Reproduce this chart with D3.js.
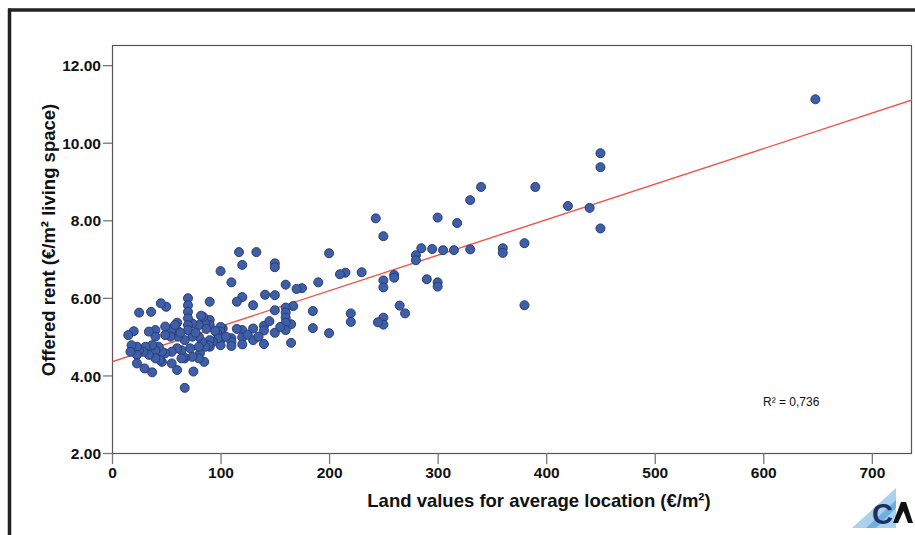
<!DOCTYPE html>
<html>
<head>
<meta charset="utf-8">
<script src="https://cdn.jsdelivr.net/npm/d3@7"></script>
<style>
	body { margin: 0; background: #fff; }
	text { font-family: "Liberation Sans", Arial, sans-serif; }
</style>
</head>
<body>
<div id="chart"></div>
<script>
// land value per m2 (x) and offered rent per m2 (y), one entry per point
var landValue = [
	648, 450, 450, 450, 440, 420, 390, 380, 380, 360, 360, 340, 330, 330, 318, 315, 305, 300, 300, 300,
	295, 290, 285, 280, 280, 270, 265, 260, 260, 250, 250, 250, 250, 250, 245, 243, 230, 220, 220, 215,
	210, 200, 200, 190, 185, 185, 175, 170, 167, 165, 165, 160, 160, 160, 160, 160, 160, 150, 150, 150,
	150, 150, 141, 140, 140, 140, 133, 130, 130, 130, 120, 120, 120, 120, 120, 117, 115, 115, 110, 110,
	110, 110, 102, 100, 100, 100, 100, 100, 97, 98, 93, 90, 90, 90, 90, 90, 89, 86, 86, 85,
	84, 83, 82, 81, 80, 80, 80, 80, 75, 74, 74, 74, 72, 70, 70, 70, 70, 70, 70, 67,
	67, 67, 66, 64, 64, 61, 60, 60, 60, 60, 55, 55, 55, 54, 50, 49, 49, 49, 46, 46,
	45, 44, 43, 40, 40, 40, 40, 37, 37, 36, 34, 34, 31, 30, 29, 25, 25, 23, 23, 23,
	20, 18, 17, 15, 58, 63, 77, 87, 95, 105, 125, 135, 145, 155
];
var offeredRent = [
	11.12, 9.73, 9.37, 7.79, 8.32, 8.37, 8.86, 7.41, 5.81, 7.28, 7.16, 8.86, 8.52, 7.25, 7.93, 7.23, 7.23, 8.07, 6.40, 6.29,
	7.26, 6.48, 7.28, 7.10, 6.97, 5.60, 5.80, 6.59, 6.52, 7.59, 6.45, 6.27, 5.49, 5.31, 5.37, 8.05, 6.66, 5.60, 5.38, 6.65,
	6.61, 7.15, 5.09, 6.40, 5.66, 5.22, 6.25, 6.23, 5.79, 5.32, 4.84, 6.34, 5.75, 5.62, 5.49, 5.36, 5.17, 6.89, 6.79, 6.07,
	5.68, 5.10, 6.08, 5.28, 5.16, 4.81, 7.18, 5.81, 5.21, 4.91, 6.85, 6.02, 5.17, 4.98, 4.80, 7.18, 5.90, 5.20, 6.40, 4.96,
	4.87, 4.76, 5.21, 6.69, 5.25, 5.13, 4.91, 4.78, 5.09, 4.96, 4.87, 5.90, 5.43, 5.30, 4.91, 4.74, 4.78, 5.34, 4.74, 4.35,
	5.51, 4.87, 5.54, 4.57, 5.30, 5.00, 4.74, 4.44, 4.10, 5.34, 5.00, 4.48, 4.70, 5.99, 5.81, 5.64, 5.47, 5.30, 5.17, 4.91,
	4.44, 3.68, 4.48, 4.65, 4.44, 5.00, 5.36, 5.17, 4.70, 4.14, 5.19, 4.61, 4.31, 5.00, 5.77, 5.26, 5.04, 4.57, 4.61, 4.35,
	5.86, 4.40, 4.74, 5.17, 5.00, 4.65, 4.44, 4.78, 4.08, 5.64, 5.13, 4.53, 4.74, 4.18, 4.61, 5.62, 4.65, 4.74, 4.53, 4.31,
	5.14, 4.78, 4.61, 5.04, 5.30, 5.10, 5.10, 5.20, 5.15, 5.00, 5.05, 5.00, 5.40, 5.25
];
var xTicks = [0, 100, 200, 300, 400, 500, 600, 700];
var yTicks = [2, 4, 6, 8, 10, 12];
// linear fit drawn by the original software
var fitIntercept = 4.35;
var fitSlope = 0.00916;
var rSquared = 'R\u00b2 = 0,736';

var width = 915, height = 535;
var plotLeft = 112, plotRight = 912, plotTop = 45, plotBottom = 453;

var svg = d3.select('#chart').append('svg')
	.attr('width', width)
	.attr('height', height);

// thick border of the cut-out picture
svg.append('line')
	.attr('x1', 8).attr('x2', width)
	.attr('y1', 10).attr('y2', 10)
	.attr('stroke', '#222')
	.attr('stroke-width', 3.5);
svg.append('line')
	.attr('x1', 9.5).attr('x2', 9.5)
	.attr('y1', 8.5).attr('y2', height)
	.attr('stroke', '#222')
	.attr('stroke-width', 3.5);

var x = d3.scaleLinear().domain([0, 737]).range([plotLeft, plotRight]);
var y = d3.scaleLinear().domain([2, 12.52]).range([plotBottom, plotTop]);

var points = landValue.map(function(d, i) {
	return {'x': d, 'y': offeredRent[i]};
});

// plot frame
svg.append('rect')
	.attr('x', plotLeft + 0.5)
	.attr('y', plotTop + 0.5)
	.attr('width', plotRight - plotLeft - 1)
	.attr('height', plotBottom - plotTop)
	.attr('fill', 'none')
	.attr('stroke', '#555')
	.attr('stroke-width', 1.2);

var xAxis = svg.append('g')
	.attr('transform', 'translate(0,' + plotBottom + ')')
	.call(d3.axisBottom(x).tickValues(xTicks).tickSize(11).tickPadding(3).tickFormat(d3.format('d')));

var yAxis = svg.append('g')
	.attr('transform', 'translate(' + plotLeft + ',0)')
	.call(d3.axisLeft(y).tickValues(yTicks).tickSize(9).tickPadding(2).tickFormat(d3.format('.2f')));

[xAxis, yAxis].forEach(function(a) {
	a.select('.domain').remove();
	a.selectAll('.tick line')
		.attr('stroke', '#777')
		.attr('stroke-width', 1.3);
	a.selectAll('.tick text')
		.attr('fill', '#111')
		.style('font-size', '15.5px')
		.style('font-weight', 'bold')
		.style('font-family', '"Liberation Sans", Arial, sans-serif');
});
yAxis.selectAll('.tick text').attr('dy', '0.36em');

svg.append('clipPath')
	.attr('id', 'plotclip')
	.append('rect')
		.attr('x', plotLeft)
		.attr('y', plotTop)
		.attr('width', plotRight - plotLeft)
		.attr('height', plotBottom - plotTop);

// fit line, from the left edge of the plot to the right edge
var xDomain = x.domain();
svg.append('line')
	.attr('clip-path', 'url(#plotclip)')
	.attr('x1', x(xDomain[0]))
	.attr('y1', y(fitIntercept + fitSlope * xDomain[0]))
	.attr('x2', x(xDomain[1]))
	.attr('y2', y(fitIntercept + fitSlope * xDomain[1]))
	.attr('stroke', '#f2534b')
	.attr('stroke-width', 1.4);

svg.append('g')
	.selectAll('circle')
	.data(points)
	.enter()
		.append('circle')
			.attr('cx', function(d) { return x(d['x']); })
			.attr('cy', function(d) { return y(d['y']); })
			.attr('r', 4.5)
			.attr('fill', '#3f5ea8')
			.attr('stroke', '#273d74')
			.attr('stroke-width', 1);

svg.append('text')
	.attr('x', 763)
	.attr('y', 406)
	.attr('fill', '#111')
	.style('font-size', '12px')
	.text(rSquared);

svg.append('text')
	.attr('x', 539)
	.attr('y', 507)
	.attr('text-anchor', 'middle')
	.attr('fill', '#111')
	.style('font-size', '18.5px')
	.style('font-weight', 'bold')
	.text('Land values for average location (\u20ac/m\u00b2)');

svg.append('text')
	.attr('transform', 'translate(55,240) rotate(-90)')
	.attr('text-anchor', 'middle')
	.attr('fill', '#111')
	.style('font-size', '18.5px')
	.style('font-weight', 'bold')
	.text('Offered rent (\u20ac/m\u00b2 living space)');

// small logo bottom right
var logo = svg.append('g').attr('transform', 'translate(852,488)');
logo.append('path')
	.attr('d', 'M0,40 L44,0 L44,40 Z')
	.attr('fill', '#a9d2ef');
logo.append('path')
	.attr('d', 'M14,40 L44,12 L44,20 L24,40 Z')
	.attr('fill', '#6fb0e0');
logo.append('text')
	.attr('x', 20)
	.attr('y', 36)
	.attr('fill', '#1f2f5e')
	.style('font-size', '29px')
	.style('font-weight', 'bold')
	.text('C');
logo.append('path')
	.attr('d', 'M41,35 L49,14 L54,14 L61,35 L56,35 L51.5,23 L46,35 Z')
	.attr('fill', '#111');
</script>
</body>
</html>
